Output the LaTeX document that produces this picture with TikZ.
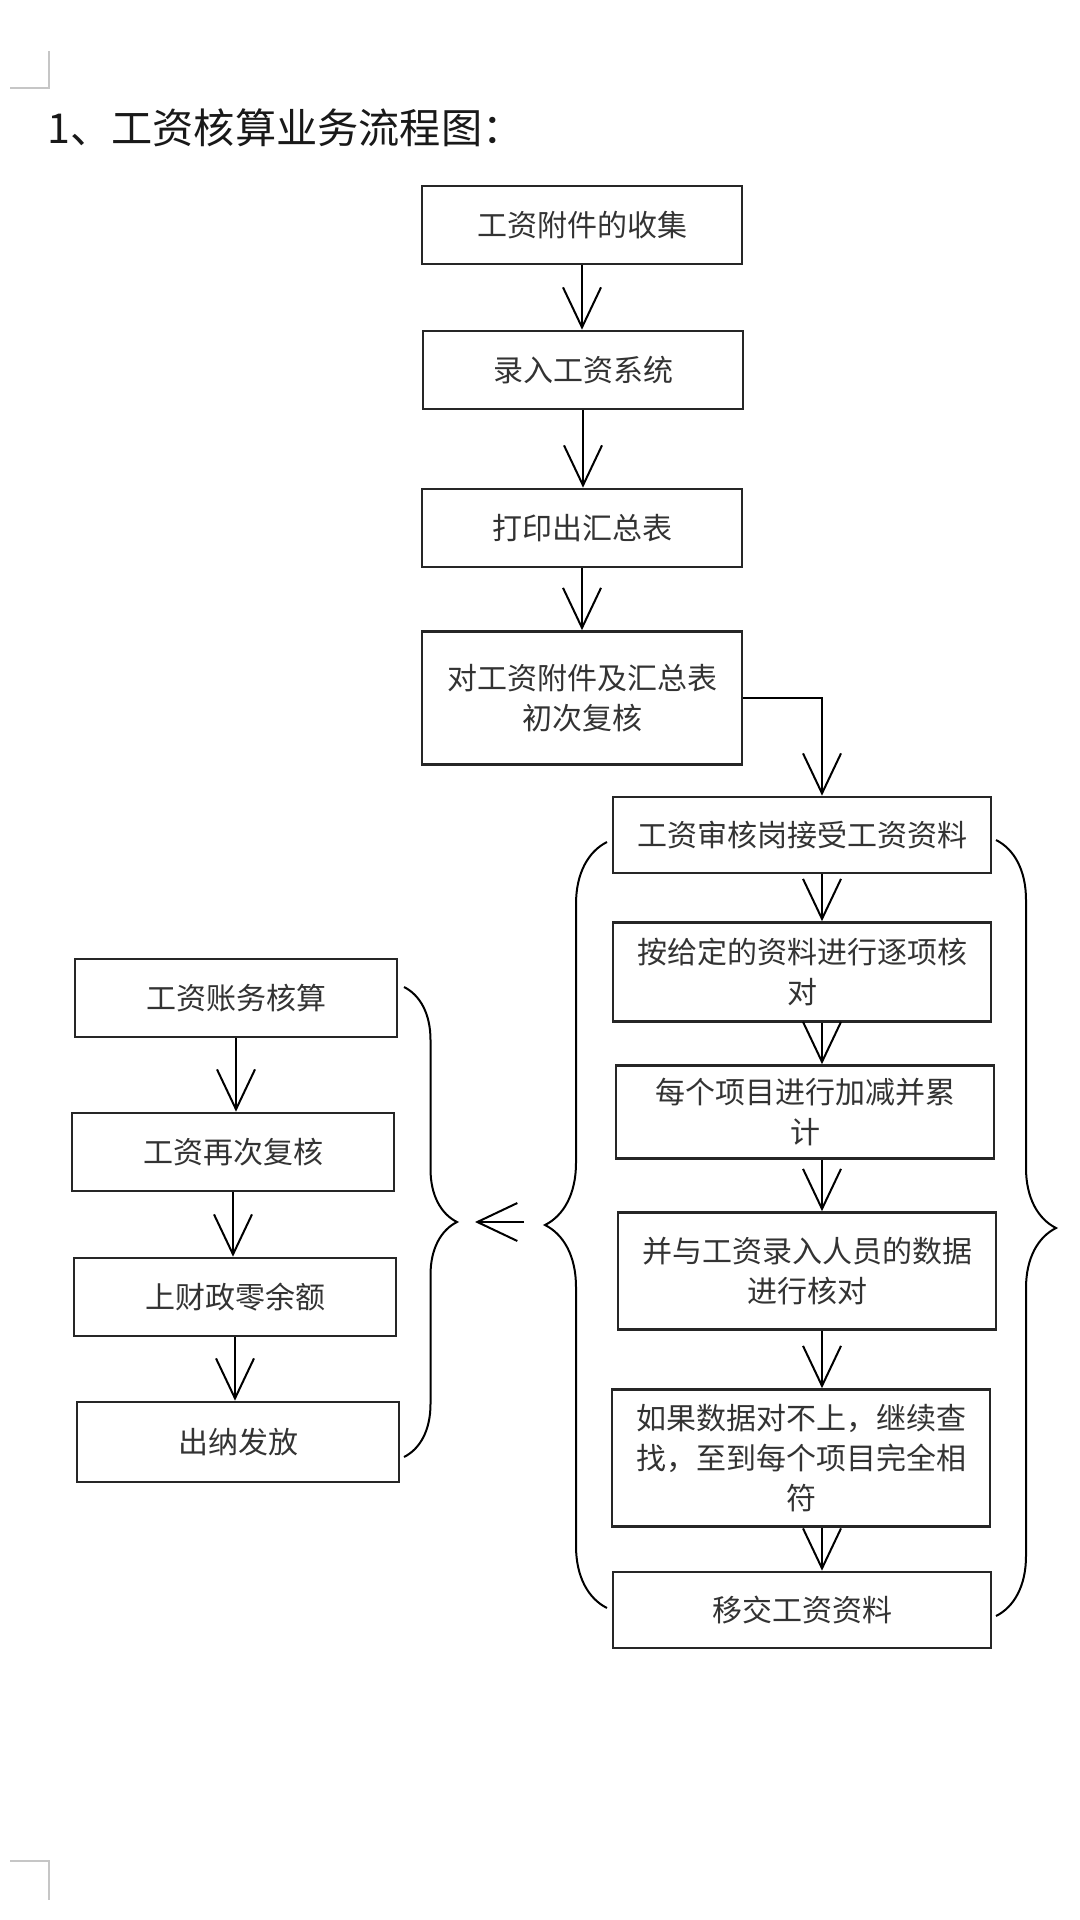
\documentclass[tikz,border=0pt]{standalone}
\usepackage{fontspec}
\newfontfamily\cjk{Noto Sans CJK SC}
\usetikzlibrary{arrows.meta,decorations.pathreplacing}

\begin{document}
\begin{tikzpicture}[x=0.5pt,y=-0.5pt,
	proc/.style={draw=black!85,line width=1.3pt,inner sep=0pt,align=center,text=black!80,font=\cjk\fontsize{15}{20}\selectfont},
	topbox/.style={proc,minimum width=160pt,minimum height=39pt},
	rbox/.style={proc,minimum width=189pt,minimum height=38pt},
	lbox/.style={proc,minimum width=161pt,minimum height=39pt},
	flow/.style={line width=1pt,-{Straight Barb[length=20pt,width=19pt]}},
	curly/.style={line width=1pt,decorate,decoration={brace,amplitude=#1}}]
	\useasboundingbox (0,0) rectangle (1080,1920);
	\draw[gray!45,line width=1pt] (10,88) -- (49,88) -- (49,51);
	\draw[gray!45,line width=1pt] (10,1861) -- (49,1861) -- (49,1900);
	\node[anchor=west,inner sep=0pt,text=black!90,font=\cjk\fontsize{20.6}{24}\selectfont] (title) at (47,128) {1、工资核算业务流程图：};
	\node[topbox] (b1) at (582,225) {工资附件的收集};
	\node[topbox] (b2) at (583,370) {录入工资系统};
	\node[topbox] (b3) at (582,528) {打印出汇总表};
	\node[topbox,minimum height=66.5pt] (b4) at (582,698) {对工资附件及汇总表\\初次复核};
	\node[rbox] (r1) at (802,835) {工资审核岗接受工资资料};
	\node[rbox,minimum height=49.5pt] (r2) at (802,972) {按给定的资料进行逐项核\\对};
	\node[rbox,minimum height=46.5pt] (r3) at (805,1112) {每个项目进行加减并累\\计};
	\node[rbox,minimum height=58.5pt] (r4) at (807,1271) {并与工资录入人员的数据\\进行核对};
	\node[rbox,minimum height=68.5pt] (r5) at (801,1458) {如果数据对不上，继续查\\找，至到每个项目完全相\\符};
	\node[rbox] (r6) at (802,1610) {移交工资资料};
	\node[lbox] (l1) at (236,998) {工资账务核算};
	\node[lbox] (l2) at (233,1152) {工资再次复核};
	\node[lbox] (l3) at (235,1297) {上财政零余额};
	\node[lbox,minimum height=40pt] (l4) at (238,1442) {出纳发放};
	\coordinate (rcol) at (822,0);
	\foreach \a/\b in {b1/b2,b2/b3,b3/b4,l1/l2,l2/l3,l3/l4}
		\draw[flow] (\a.south) -- (\a.south |- \b.north);
	\foreach \a/\b in {r1/r2,r2/r3,r3/r4,r4/r5,r5/r6}
		\draw[flow] (\a.south -| rcol) -- (\b.north -| rcol);
	\draw[flow] (b4.east) -| (r1.north -| rcol);
	\draw[curly=31pt] (607,1608) -- (607,842);
	\draw[curly=30pt] (996,840) -- (996,1616);
	\draw[curly=26.5pt] (404,987) -- (404,1457);
	\coordinate (gin) at (524,1222);
	\coordinate (gout) at (475,1222);
	\draw[flow] (gin) -- (gout);
\end{tikzpicture}
\end{document}
